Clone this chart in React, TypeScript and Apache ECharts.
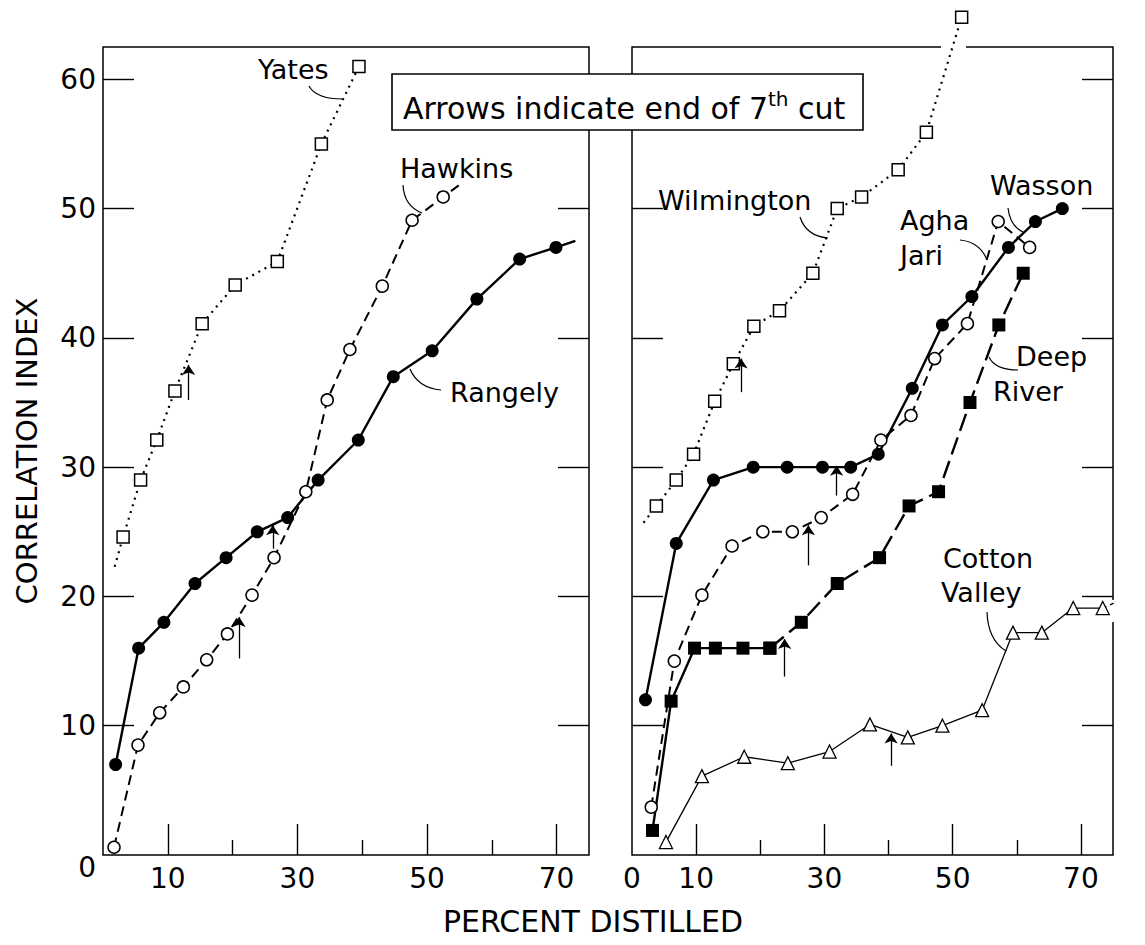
import React, { useEffect, useRef } from 'react';
import * as echarts from 'echarts';

const FONT = '"DejaVu Sans", sans-serif';

// ---------- data (percent distilled, correlation index) ----------
const yatesStart = [1.8, 22.3];
const yatesPts = [[3.1, 24.6], [5.8, 29.0], [8.3, 32.1], [11.1, 35.9], [15.3, 41.1], [20.4, 44.1], [26.9, 45.9], [33.7, 55.0], [39.5, 61.0]];
const hawkinsPts = [[1.7, 0.6], [5.4, 8.5], [8.75, 11.0], [12.4, 13.0], [16.0, 15.1], [19.2, 17.1], [23.0, 20.1], [26.4, 23.0], [31.3, 28.1], [34.6, 35.2], [38.1, 39.1], [43.1, 44.0], [47.7, 49.1], [52.5, 50.9]];
const hawkinsEnd = [54.9, 51.8];
const rangelyPts = [[1.95, 7.0], [5.5, 16.0], [9.4, 18.0], [14.2, 21.0], [19.0, 23.0], [23.8, 25.0], [28.5, 26.1], [33.2, 29.0], [39.4, 32.1], [44.8, 37.0], [50.8, 39.0], [57.7, 43.0], [64.3, 46.1], [69.9, 47.0]];
const rangelyEnd = [72.9, 47.5];

const wilmingtonStart = [1.8, 25.7];
const wilmingtonPts = [[3.8, 27.0], [6.9, 29.0], [9.6, 31.0], [12.9, 35.1], [15.8, 38.0], [19.0, 40.9], [23.0, 42.1], [28.2, 45.0], [32.0, 50.0], [35.8, 50.9], [41.5, 53.0], [45.9, 55.9], [51.4, 64.8]];
const wassonPts = [[2.1, 12.0], [6.9, 24.1], [12.7, 29.0], [18.9, 30.0], [24.2, 30.0], [29.7, 30.0], [34.1, 30.0], [38.4, 31.0], [43.7, 36.1], [48.4, 41.0], [53.0, 43.2], [58.7, 47.0], [62.9, 49.0], [67.1, 50.0]];
const aghaJariPts = [[3.0, 3.7], [6.6, 15.0], [10.9, 20.1], [15.6, 23.9], [20.4, 25.0], [25.0, 25.0], [29.5, 26.1], [34.4, 27.9], [38.8, 32.1], [43.5, 34.0], [47.2, 38.4], [52.3, 41.1], [57.1, 49.0], [62.0, 47.0]];
const deepRiverSolid = [[3.2, 1.9], [6.1, 11.9], [9.75, 16.0], [13.0, 16.0], [17.3, 16.0], [21.5, 16.0]];
const deepRiverDashed = [[21.5, 16.0], [26.4, 18.0], [32.0, 21.0], [38.6, 23.0], [43.2, 27.0], [47.8, 28.1], [52.7, 35.0], [57.2, 41.0], [61.0, 45.0]];
const cottonValleyPts = [[5.3, 1.0], [10.9, 6.1], [17.5, 7.6], [24.3, 7.1], [30.8, 8.0], [37.1, 10.1], [43.0, 9.1], [48.4, 10.0], [54.6, 11.2], [59.4, 17.2], [63.9, 17.2], [68.8, 19.1], [73.4, 19.1]];
const cottonValleyEnd = [76.1, 19.7];

// arrows marking end of 7th cut: [x, from y, to y]
const yatesArrow = [13.2, 35.2, 37.9];
const hawkinsArrow = [21.0, 15.2, 18.4];
const rangelyArrow = [26.2, 23.7, 25.5];
const wilmingtonArrow = [17.0, 35.8, 38.4];
const wassonArrow = [31.9, 27.8, 30.1];
const aghaJariArrow = [27.5, 22.4, 25.5];
const deepRiverArrow = [23.8, 13.8, 16.7];
const cottonValleyArrow = [40.4, 6.9, 9.4];

// ticks and labels
const xMajorTicks = [10, 30, 50, 70];
const xMinorTicks = [20, 40, 60];
const xLabelsLeft = [10, 30, 50, 70];
const xLabelsRight = [0, 10, 30, 50, 70];
const yTicks = [10, 20, 30, 40, 50, 60];
const yLabels = [0, 10, 20, 30, 40, 50, 60];

const X_MAX = 75;
const Y_MAX = 62.5;

const plain = (p: number[]) => ({ value: p, symbol: 'none' });

const markers: Record<string, any> = {
  openSquare: { symbol: 'rect', symbolSize: 12, itemStyle: { color: '#fff', borderColor: '#000', borderWidth: 1.5 } },
  openCircle: { symbol: 'circle', symbolSize: 12, itemStyle: { color: '#fff', borderColor: '#000', borderWidth: 1.5 } },
  filledCircle: { symbol: 'circle', symbolSize: 13, itemStyle: { color: '#000', borderColor: '#000', borderWidth: 0 } },
  filledSquare: { symbol: 'rect', symbolSize: 13, itemStyle: { color: '#000', borderColor: '#000', borderWidth: 0 } },
  openTriangle: { symbol: 'triangle', symbolSize: 13, itemStyle: { color: '#fff', borderColor: '#000', borderWidth: 1.3 } },
};

const arrowMark = (a: number[] | null) =>
  a
    ? {
        silent: true,
        symbol: ['none', 'arrow'],
        symbolSize: 10,
        label: { show: false },
        emphasis: { disabled: true },
        itemStyle: { color: '#000', borderColor: '#000' },
        lineStyle: { color: '#000', width: 1.3, type: 'solid' },
        data: [[{ coord: [a[0], a[1]] }, { coord: [a[0], a[2]] }]],
      }
    : undefined;

const series = (
  name: string,
  panel: number,
  data: any[],
  lineType: any,
  width: number,
  marker: string | null,
  arrow: number[] | null
) => ({
  type: 'line',
  name,
  xAxisIndex: panel === 0 ? 0 : 2,
  yAxisIndex: panel === 0 ? 0 : 2,
  data,
  clip: false,
  z: 3,
  ...(marker ? markers[marker] : { symbol: 'none' }),
  showAllSymbol: true,
  lineStyle: { color: '#000', width, type: lineType, cap: 'butt' },
  emphasis: { disabled: true },
  markLine: arrowMark(arrow),
});

const DOT: any = [2, 5];
const DASH: any = [10, 6];
const LONGDASH: any = [18, 7];

const labelText = (text: string, x: number, y: number) => ({
  type: 'text',
  z: 50,
  style: { text, x, y, fill: '#000', fontSize: 27, fontFamily: FONT, align: 'left', verticalAlign: 'middle' },
});

const leader = (x1: number, y1: number, cx: number, cy: number, x2: number, y2: number) => ({
  type: 'bezierCurve',
  z: 50,
  shape: { x1, y1, cpx1: cx, cpy1: cy, x2, y2 },
  style: { stroke: '#000', lineWidth: 1.2, fill: 'none' },
});

const xAxisPair = (grid: number, labels: number[]) => [
  {
    type: 'value',
    gridIndex: grid,
    min: 0,
    max: X_MAX,
    position: 'bottom',
    axisLine: { show: false, onZero: false },
    splitLine: { show: false },
    axisTick: { inside: true, length: 31, customValues: xMajorTicks, lineStyle: { color: '#000', width: 1.4 } },
    axisLabel: { customValues: labels, margin: 9, fontSize: 28, color: '#000', fontFamily: FONT },
  },
  {
    type: 'value',
    gridIndex: grid,
    min: 0,
    max: X_MAX,
    position: 'bottom',
    axisLine: { show: false, onZero: false },
    splitLine: { show: false },
    axisTick: { inside: true, length: 15, customValues: xMinorTicks, lineStyle: { color: '#000', width: 1.4 } },
    axisLabel: { show: false },
  },
];

const yAxisPair = (grid: number, withLabels: boolean) => [
  {
    type: 'value',
    gridIndex: grid,
    min: 0,
    max: Y_MAX,
    position: 'left',
    axisLine: { show: false, onZero: false },
    splitLine: { show: false },
    axisTick: { inside: true, length: 31, customValues: yTicks, lineStyle: { color: '#000', width: 1.4 } },
    axisLabel: withLabels
      ? {
          customValues: yLabels,
          margin: 7,
          formatter: (v: number) => (v === 0 ? '{z|0}' : '{n|' + v + '}'),
          rich: {
            z: { fontSize: 28, fontFamily: FONT, color: '#000', padding: [24, 0, 0, 0] },
            n: { fontSize: 28, fontFamily: FONT, color: '#000' },
          },
        }
      : { show: false },
    ...(withLabels
      ? {
          name: 'CORRELATION INDEX',
          nameLocation: 'middle',
          nameGap: 62,
          nameTextStyle: { fontSize: 29, color: '#000', fontFamily: FONT },
        }
      : {}),
  },
  {
    type: 'value',
    gridIndex: grid,
    min: 0,
    max: Y_MAX,
    position: 'right',
    axisLine: { show: false, onZero: false },
    splitLine: { show: false },
    axisTick: { inside: true, length: 31, customValues: yTicks, lineStyle: { color: '#000', width: 1.4 } },
    axisLabel: { show: false },
  },
];

export default function App() {
  const ref = useRef<HTMLDivElement>(null);
  useEffect(() => {
    if (!ref.current) return;
    const chart = echarts.init(ref.current, null, { renderer: 'svg' });
    const option: any = {
      animation: false,
      backgroundColor: '#fff',
      grid: [
        { left: 103, top: 47, width: 486, height: 808, show: true, borderColor: '#000', borderWidth: 1.5, backgroundColor: 'transparent' },
        { left: 632, top: 47, width: 481, height: 808, show: true, borderColor: '#000', borderWidth: 1.5, backgroundColor: 'transparent' },
      ],
      xAxis: [...xAxisPair(0, xLabelsLeft), ...xAxisPair(1, xLabelsRight)],
      yAxis: [...yAxisPair(0, true), ...yAxisPair(1, false)],
      series: [
        series('Yates', 0, [plain(yatesStart), ...yatesPts], DOT, 2.2, 'openSquare', yatesArrow),
        series('Hawkins', 0, [...hawkinsPts, plain(hawkinsEnd)], DASH, 2, 'openCircle', hawkinsArrow),
        series('Rangely', 0, [...rangelyPts, plain(rangelyEnd)], 'solid', 2.4, 'filledCircle', rangelyArrow),
        series('Wilmington', 1, [plain(wilmingtonStart), ...wilmingtonPts], DOT, 2.2, 'openSquare', wilmingtonArrow),
        series('Wasson', 1, wassonPts, 'solid', 2.4, 'filledCircle', wassonArrow),
        series('Agha Jari', 1, aghaJariPts, DASH, 2, 'openCircle', aghaJariArrow),
        series('Deep River', 1, deepRiverSolid, 'solid', 2.4, 'filledSquare', deepRiverArrow),
        series('Deep River (after)', 1, deepRiverDashed, LONGDASH, 2.4, 'filledSquare', null),
        series('Cotton Valley', 1, cottonValleyPts, 'solid', 1.3, 'openTriangle', cottonValleyArrow),
        series('Cotton Valley (cont.)', 1, [cottonValleyPts[cottonValleyPts.length - 1], cottonValleyEnd], [4, 4], 1.3, null, null),
      ],
      graphic: [
        // gaps in the frame where curves cross it
        { type: 'rect', z: 1, shape: { x: 941, y: 44, width: 25, height: 8 }, style: { fill: '#fff' } },
        { type: 'rect', z: 1, shape: { x: 1110, y: 600, width: 7, height: 22 }, style: { fill: '#fff' } },
        // legend box
        {
          type: 'rect',
          z: 100,
          shape: { x: 392, y: 74, width: 471, height: 56 },
          style: { fill: '#fff', stroke: '#000', lineWidth: 1.6 },
        },
        {
          type: 'text',
          z: 101,
          style: {
            x: 403,
            y: 106,
            text: '{a|Arrows indicate end of 7}{s|th}{a| cut}',
            align: 'left',
            verticalAlign: 'middle',
            fill: '#000',
            rich: {
              a: { fontSize: 30, fontFamily: FONT, fill: '#000', verticalAlign: 'bottom' },
              s: { fontSize: 20, fontFamily: FONT, fill: '#000', verticalAlign: 'bottom', padding: [0, 0, 14, 0] },
            },
          },
        },
        // axis title
        {
          type: 'text',
          z: 50,
          style: { text: 'PERCENT DISTILLED', x: 593, y: 921, fill: '#000', fontSize: 30, fontFamily: FONT, align: 'center', verticalAlign: 'middle' },
        },
        // series labels & leaders
        labelText('Yates', 258, 69),
        leader(309, 86, 316, 99, 343, 99),
        labelText('Hawkins', 400, 168),
        leader(403, 185, 404, 206, 422, 213),
        labelText('Rangely', 450, 392),
        leader(441, 390, 418, 388, 410, 369),
        labelText('Wilmington', 658, 200),
        leader(800, 217, 806, 236, 828, 238),
        labelText('Wasson', 990, 185),
        leader(1008, 208, 1010, 226, 1023, 232),
        labelText('Agha', 900, 220),
        labelText('Jari', 900, 255),
        leader(960, 240, 980, 242, 987, 260),
        labelText('Deep', 1016, 356),
        labelText('River', 993, 391),
        leader(1018, 370, 995, 370, 989, 357),
        labelText('Cotton', 943, 558),
        labelText('Valley', 941, 592),
        leader(987, 612, 988, 640, 1006, 651),
      ],
    };
    chart.setOption(option);
    return () => chart.dispose();
  }, []);
  return <div ref={ref} style={{ position: 'absolute', left: 0, top: 0, width: 1145, height: 945 }} />;
}
